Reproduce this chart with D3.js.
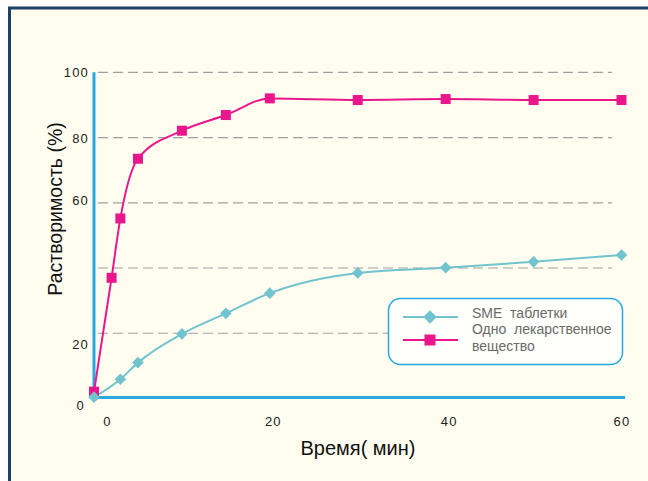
<!DOCTYPE html>
<html><head><meta charset="utf-8">
<script src="https://cdn.jsdelivr.net/npm/d3@7/dist/d3.min.js"></script>
<style>
html,body{margin:0;padding:0;background:#fff;}
svg{display:block;font-family:"Liberation Sans",Arial,sans-serif;}
</style></head><body>
<svg id="c" width="648" height="481"></svg>
<script>
// ---- data ----
const timesSingle = [0, 2, 3, 5, 10, 15, 20, 30, 40, 50, 60];
const valuesSingle = [2.1, 37.0, 55.2, 73.5, 82.1, 86.9, 92.0, 91.5, 91.8, 91.5, 91.5];
const timesSME = [0, 3, 5, 10, 15, 20, 30, 40, 50, 60];
const valuesSME = [0.4, 5.9, 11.0, 19.8, 26.1, 32.3, 38.5, 40.1, 41.9, 44.0];
const xTicks = [0, 20, 40, 60];
const yTickLabels = [0, 20, 60, 80, 100];
const yGrid = [20, 40, 60, 80, 100];
const seriesNames = ["SME  таблетки", "Одно  лекарственное", "вещество"];
const xTitle = "Время( мин)";
const yTitle = "Растворимость (%)";

const colSME = "#72c3ce", colSingle = "#ea168b", axisBlue = "#29a8e0";

const svg = d3.select("#c");
// panel
svg.append("rect").attr("x", 9.5).attr("y", 8).attr("width", 700).attr("height", 600)
  .attr("fill", "#fffdf0").attr("stroke", "#1c3f68").attr("stroke-width", 3);

const x = d3.scaleLinear().domain([0, 60]).range([94, 621.5]);
const y = d3.scaleLinear().domain([0, 100]).range([398.5, 72.3]);

// gridlines
svg.append("g").selectAll("line").data(yGrid).join("line")
  .attr("x1", x(0) + 4).attr("x2", 612)
  .attr("y1", d => y(d)).attr("y2", d => y(d))
  .attr("stroke", "#a0a0a0").attr("stroke-width", 1.2).attr("stroke-dasharray", "10,5");

// axes lines
svg.append("line").attr("x1", x(0)).attr("x2", x(0)).attr("y1", y(100)).attr("y2", y(0))
  .attr("stroke", axisBlue).attr("stroke-width", 3);
svg.append("line").attr("x1", x(0)).attr("x2", 625).attr("y1", y(0) - 1).attr("y2", y(0) - 1)
  .attr("stroke", axisBlue).attr("stroke-width", 3);

// x axis labels
const xAxis = d3.axisBottom(x).tickValues(xTicks).tickSize(0).tickPadding(0);
const gx = svg.append("g").attr("transform", `translate(0,${y(0) + 18})`).call(xAxis);
gx.select(".domain").remove();
gx.selectAll("text").attr("font-size", 13).attr("fill", "#222").attr("letter-spacing", 1.2)
  .attr("font-family", "Liberation Sans, Arial, sans-serif")
  .attr("dx", d => d === 0 ? 13 : (d === 60 ? 0 : 3)).attr("dy", "0.71em").attr("y", 0);

// y axis labels
const yOff = {0: 6, 20: 11, 60: -3, 80: 0, 100: 0};
const yAxis = d3.axisLeft(y).tickValues(yTickLabels).tickSize(0).tickPadding(0);
const gy = svg.append("g").attr("transform", `translate(${x(0) - 5},0)`).call(yAxis);
gy.select(".domain").remove();
gy.selectAll("text").attr("font-size", 13).attr("fill", "#222").attr("letter-spacing", 1.2)
  .attr("font-family", "Liberation Sans, Arial, sans-serif")
  .attr("dx", d => d === 0 ? -4 : 0)
  .attr("y", d => yOff[d]).attr("dy", "0.35em");

// lines
const line = d3.line().x(d => x(d[0])).y(d => y(d[1])).curve(d3.curveMonotoneX);
const dSME = timesSME.map((t, i) => [t, valuesSME[i]]);
const dSingle = timesSingle.map((t, i) => [t, valuesSingle[i]]);

svg.append("path").datum(dSME).attr("d", line).attr("fill", "none")
  .attr("stroke", colSME).attr("stroke-width", 2);
svg.append("path").datum(dSingle).attr("d", line).attr("fill", "none")
  .attr("stroke", colSingle).attr("stroke-width", 2);

svg.append("g").selectAll("rect").data(dSingle).join("rect")
  .attr("x", d => x(d[0]) - 5).attr("y", d => y(d[1]) - 5)
  .attr("width", 10).attr("height", 10).attr("fill", colSingle);
svg.append("g").selectAll("path").data(dSME).join("path")
  .attr("d", d3.symbol().type(d3.symbolSquare).size(68))
  .attr("transform", d => `translate(${x(d[0])},${y(d[1])}) rotate(45)`)
  .attr("fill", colSME);

// titles
svg.append("text").attr("x", 358).attr("y", 455).attr("text-anchor", "middle")
  .attr("font-size", 20).attr("fill", "#111").text(xTitle);
svg.append("text").attr("transform", "translate(62,209) rotate(-90)").attr("text-anchor", "middle")
  .attr("font-size", 19.5).attr("fill", "#111").text(yTitle);

// legend
const lg = svg.append("g");
lg.append("rect").attr("x", 388.5).attr("y", 298.5).attr("width", 234).attr("height", 66)
  .attr("rx", 12).attr("fill", "#fffffb").attr("stroke", axisBlue).attr("stroke-width", 1.5);
lg.append("line").attr("x1", 403).attr("x2", 458).attr("y1", 317).attr("y2", 317)
  .attr("stroke", colSME).attr("stroke-width", 2);
lg.append("path").attr("d", d3.symbol().type(d3.symbolSquare).size(90))
  .attr("transform", "translate(430,317) rotate(45)").attr("fill", colSME);
lg.append("line").attr("x1", 403).attr("x2", 458).attr("y1", 340).attr("y2", 340)
  .attr("stroke", colSingle).attr("stroke-width", 2);
lg.append("rect").attr("x", 424.5).attr("y", 334.5).attr("width", 11).attr("height", 11)
  .attr("fill", colSingle);
lg.selectAll("text").data(seriesNames).join("text")
  .attr("x", 472).attr("y", (d, i) => 318 + i * 16.3)
  .attr("font-size", 14).attr("fill", "#6a6a6a").attr("xml:space", "preserve")
  .style("white-space", "pre").text(d => d);
</script></body></html>
